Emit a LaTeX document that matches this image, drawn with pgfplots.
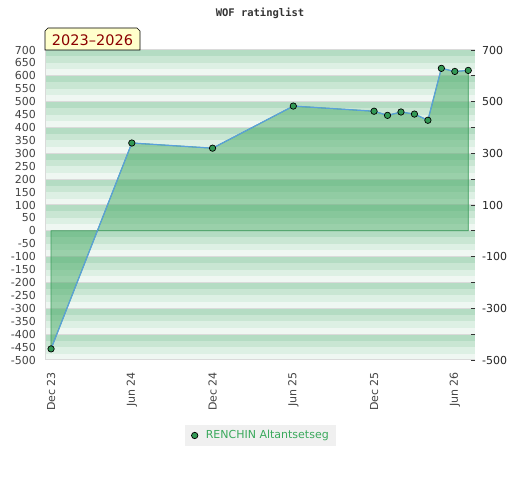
\documentclass[border=0pt]{standalone}
\usepackage{pgfplots}
\pgfplotsset{compat=1.18}
\usepackage{fontspec}
\setmainfont{DejaVu Sans}
\newfontfamily\monob{DejaVu Sans Mono}
\definecolor{sA}{HTML}{B4DCC3}
\definecolor{sB}{HTML}{C9E6D3}
\definecolor{sC}{HTML}{DDF0E4}
\definecolor{sD}{HTML}{EFF7F2}
\definecolor{gl}{HTML}{DADADA}
\definecolor{fillg}{HTML}{46AA64}
\definecolor{edgeg}{HTML}{3A9A5A}
\definecolor{lineb}{HTML}{5AA0DC}
\definecolor{mk}{HTML}{339955}
\definecolor{lgbg}{HTML}{F0F0F0}
\definecolor{lgtext}{HTML}{3AA95C}
\definecolor{tk}{HTML}{444444}
\definecolor{boxbg}{HTML}{FFFFCC}
\definecolor{boxtx}{HTML}{8B0000}
\begin{document}
\begin{tikzpicture}
\useasboundingbox (0,0) rectangle (520pt,480pt);
\fill[white] (0,0) rectangle (520pt,480pt);
% background stripes
\foreach \k in {0,...,11} {
  \pgfmathsetmacro\yb{120+\k*25.8333}
  \fill[sD] (45pt,\yb pt) rectangle (475pt,\yb pt+6.4583pt);
  \fill[sC] (45pt,\yb pt+6.4583pt) rectangle (475pt,\yb pt+12.9167pt);
  \fill[sB] (45pt,\yb pt+12.9167pt) rectangle (475pt,\yb pt+19.375pt);
  \fill[sA] (45pt,\yb pt+19.375pt) rectangle (475pt,\yb pt+25.8333pt);
}
\foreach \k in {0,...,12} {
  \pgfmathsetmacro\yb{120+\k*25.8333}
  \draw[gl, line width=1pt] (45pt,\yb pt) -- (475pt,\yb pt);
}
\draw[gl, line width=1pt] (45pt,120pt) -- (45pt,430pt);
% title
\node[font=\monob\bfseries\fontsize{10.5}{12}\selectfont, text=black!80] at (260pt,466.5pt) {WOF ratinglist};
% period box
\fill[boxbg, draw=black, line width=0.6pt] (45pt,430pt) -- (45pt,449pt) -- (48pt,452pt) -- (137pt,452pt) -- (140pt,449pt) -- (140pt,430pt) -- cycle;
\node[font=\fontsize{14.5}{16}\selectfont, text=boxtx, inner sep=0pt] at (92.5pt,440pt) {2023–2026};
\begin{axis}[
  at={(45pt,120pt)}, anchor=south west,
  scale only axis, width=430pt, height=310pt,
  xmin=-0.45, xmax=31.5, ymin=-500, ymax=700,
  axis line style={draw=none},
  xtick={0,6,12,18,24,30},
  xticklabels={Dec 23,Jun 24,Dec 24,Jun 25,Dec 25,Jun 26},
  ytick={-500,-450,...,700},
  major tick length=0pt,
  tick style={draw=none},
  /pgf/number format/assume math mode=true,
  ticklabel style={font=\fontsize{11}{12}\selectfont, text=tk, inner sep=0pt},
  xticklabel style={rotate=90, anchor=east},
  xticklabel shift=12pt,
  yticklabel shift=9pt,
  legend style={at={(0.501,-0.2435)}, anchor=center, fill=lgbg, draw=none,
    inner xsep=5pt, inner ysep=3.5pt, text=lgtext,
    font=\fontsize{11}{12}\selectfont},
  legend cell align=left,
]
\addplot[fill=fillg, fill opacity=0.5, draw=edgeg, line width=0.8pt, forget plot] coordinates {
(0,0) (0,-457) (6,340) (12,320) (18,483) (24,463) (25,447) (26,460) (27,452) (28,428) (29,629) (30,617) (31,621) (31,0)} -- cycle;
\addplot[color=lineb, line width=1.2pt, mark=*, mark size=3.2pt,
  mark options={fill=mk, draw=black, line width=0.7pt},
  legend image code/.code={\path (-4pt,0pt) (8.5pt,0pt); \draw[mark=*, mark size=3.2pt, mark options={fill=mk, draw=black, line width=0.7pt}] plot coordinates {(0cm,0cm)};}]
coordinates {(0,-457) (6,340) (12,320) (18,483) (24,463) (25,447) (26,460) (27,452) (28,428) (29,629) (30,617) (31,621)};
\addlegendentry{RENCHIN Altantsetseg}
\end{axis}
\begin{axis}[
  at={(45pt,120pt)}, anchor=south west,
  scale only axis, width=430pt, height=310pt,
  xmin=-0.45, xmax=31.5, ymin=-500, ymax=700,
  hide x axis, axis y line*=right,
  y axis line style={draw=none},
  ytick={-500,-400,...,700},
  yticklabels={-500,,-300,,-100,,100,,300,,500,,700},
  tick align=inside, major tick length=4pt,
  tick style={color=black!80, line width=0.8pt},
  /pgf/number format/assume math mode=true,
  yticklabel style={font=\fontsize{11}{12}\selectfont, text=black!85, inner sep=0pt},
  yticklabel shift=7pt,
]
\addplot[draw=none, forget plot] coordinates {(0,0)};
\end{axis}
\end{tikzpicture}
\end{document}
